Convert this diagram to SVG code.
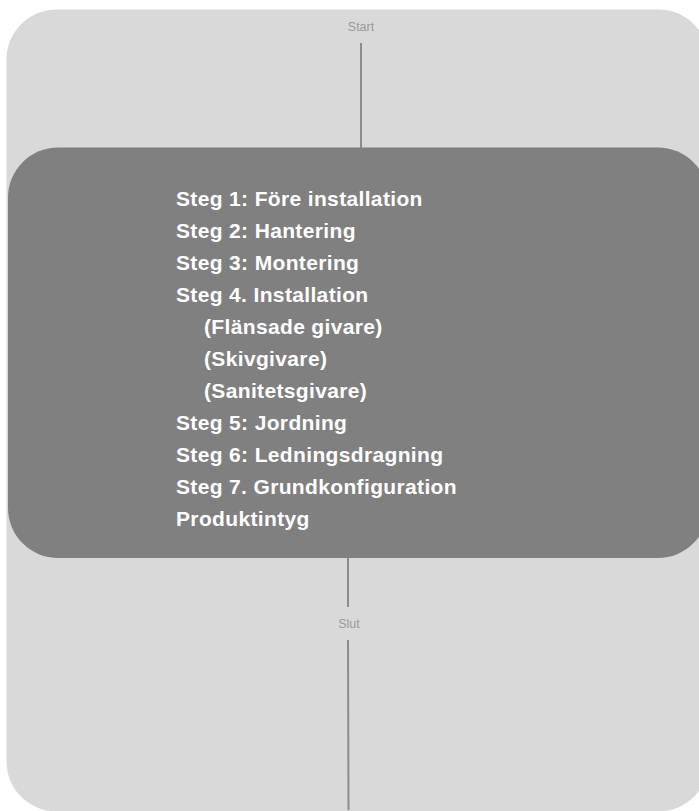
<svg xmlns="http://www.w3.org/2000/svg" width="699" height="811" viewBox="0 0 699 811">
<style>
.lbl{font-family:"Liberation Sans",Arial,sans-serif;font-size:12.5px;fill:#9a9a9a;text-anchor:middle}
.item{font-family:"Liberation Sans",Arial,sans-serif;font-size:21px;font-weight:bold;fill:#ffffff;letter-spacing:0.35px}
.conn{stroke:#8c8c8c;stroke-width:2;fill:none}
</style>
<rect width="699" height="811" fill="#ffffff"/>
<g id="container">
<rect x="6.5" y="9.5" width="702" height="802" rx="50" ry="50" fill="#d9d9d9"/>
</g>
<g id="connectors">
<line class="conn" x1="361" y1="43" x2="361" y2="148"/>
<line class="conn" x1="348" y1="547" x2="348" y2="607"/>
<line class="conn" x1="348" y1="640" x2="348.5" y2="810"/>
</g>
<g id="start">
<text class="lbl" x="361" y="31">Start</text>
</g>
<g id="steps">
<rect x="8" y="147.5" width="700" height="410.5" rx="50" ry="50" fill="#808080"/>
<text class="item" x="176" y="206">Steg 1: Före installation</text>
<text class="item" x="176" y="238">Steg 2: Hantering</text>
<text class="item" x="176" y="270">Steg 3: Montering</text>
<text class="item" x="176" y="302">Steg 4. Installation</text>
<text class="item" x="204" y="334">(Flänsade givare)</text>
<text class="item" x="204" y="366">(Skivgivare)</text>
<text class="item" x="204" y="398">(Sanitetsgivare)</text>
<text class="item" x="176" y="430">Steg 5: Jordning</text>
<text class="item" x="176" y="462">Steg 6: Ledningsdragning</text>
<text class="item" x="176" y="494">Steg 7. Grundkonfiguration</text>
<text class="item" x="176" y="526">Produktintyg</text>
</g>
<g id="slut">
<text class="lbl" x="349" y="628">Slut</text>
</g>
</svg>
